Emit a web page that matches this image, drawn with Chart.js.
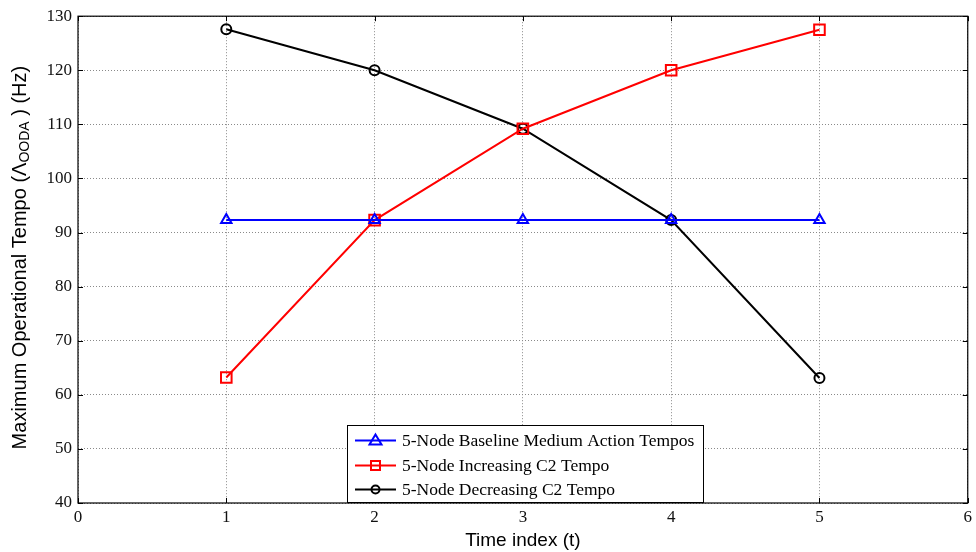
<!DOCTYPE html>
<html><head><meta charset="utf-8">
<script src="https://cdn.jsdelivr.net/npm/chart.js@4/dist/chart.umd.min.js"></script>
<style>html,body{margin:0;padding:0;background:#fff}#wrap{width:976px;height:552px}</style>
</head><body><div id="wrap"><canvas id="c" width="976" height="552"></canvas></div>
<script>
const timeIndex = [1, 2, 3, 4, 5];
const baselineTempo = [92.3, 92.3, 92.3, 92.3, 92.3];
const increasingTempo = [63.2, 92.3, 109.2, 120.0, 127.5];
const decreasingTempo = [127.6, 120.0, 109.2, 92.3, 63.1];
const seriesLabels = ['5-Node Baseline Medium Action Tempos', '5-Node Increasing C2 Tempo', '5-Node Decreasing C2 Tempo'];
const xTitle = 'Time index (t)';
const yTitleParts = ['Maximum Operational Tempo (\u039B', 'OODA', ' ) (Hz)'];

const toPts = arr => arr.map((v, i) => ({x: timeIndex[i], y: v}));
const colors = ['#0000ff', '#ff0000', '#000000'];
const styles = ['triangle', 'rect', 'circle'];
const radii = [6, 7.5, 5];

if (Chart.LineController && Chart.LineController.prototype.getMaxOverflow) {
  Chart.LineController.prototype.getMaxOverflow = function () { return 0; };
}

const boxPlugin = {
  id: 'matlabBox',
  afterDraw(chart) {
    const ctx = chart.ctx, a = chart.chartArea;
    const xs = chart.scales.x, ys = chart.scales.y;
    ctx.save();
    ctx.strokeStyle = '#000'; ctx.lineWidth = 1.2;
    ctx.strokeRect(a.left, a.top, a.right - a.left, a.bottom - a.top);
    ctx.lineWidth = 1;
    const tl = 5;
    ctx.beginPath();
    xs.ticks.forEach(t => {
      const px = Math.round(xs.getPixelForValue(t.value)) + 0.5;
      ctx.moveTo(px, a.bottom); ctx.lineTo(px, a.bottom - tl);
      ctx.moveTo(px, a.top); ctx.lineTo(px, a.top + tl);
    });
    ys.ticks.forEach(t => {
      const py = Math.round(ys.getPixelForValue(t.value)) + 0.5;
      ctx.moveTo(a.left, py); ctx.lineTo(a.left + tl, py);
      ctx.moveTo(a.right, py); ctx.lineTo(a.right - tl, py);
    });
    ctx.stroke();

    // legend
    const lx = 347, ly = 425, lw = 356, lh = 77;
    ctx.fillStyle = '#fff';
    ctx.fillRect(lx, ly, lw, lh);
    ctx.strokeStyle = '#000'; ctx.lineWidth = 1;
    ctx.strokeRect(lx + 0.5, ly + 0.5, lw, lh);
    const rows = [440, 465, 489];
    ctx.font = '17.5px "Liberation Serif", "Times New Roman", serif';
    ctx.textBaseline = 'middle'; ctx.textAlign = 'left';
    seriesLabels.forEach((lab, i) => {
      const y = rows[i] + 0.5;
      ctx.strokeStyle = colors[i]; ctx.lineWidth = 2;
      ctx.beginPath(); ctx.moveTo(355, y); ctx.lineTo(396, y); ctx.stroke();
      ctx.lineWidth = 2;
      ctx.beginPath();
      if (styles[i] === 'triangle') {
        ctx.moveTo(375.5, y - 6); ctx.lineTo(381.5, y + 4); ctx.lineTo(369.5, y + 4); ctx.closePath();
      } else if (styles[i] === 'rect') {
        ctx.rect(371, y - 4.5, 9, 9);
      } else {
        ctx.arc(375.5, y, 4, 0, Math.PI * 2);
      }
      ctx.stroke();
      ctx.fillStyle = '#000';
      ctx.fillText(lab, 402, y + 1);
    });

    // y title with subscript
    const f1 = '20px "Liberation Sans", Arial, sans-serif';
    const f2 = '14px "Liberation Sans", Arial, sans-serif';
    ctx.font = f1; const w1 = ctx.measureText(yTitleParts[0]).width;
    const w3 = ctx.measureText(yTitleParts[2]).width;
    ctx.font = f2; const w2 = ctx.measureText(yTitleParts[1]).width;
    const total = w1 + w2 + w3;
    ctx.translate(20, (a.top + a.bottom) / 2 - 2);
    ctx.rotate(-Math.PI / 2);
    ctx.fillStyle = '#000'; ctx.textBaseline = 'middle'; ctx.textAlign = 'left';
    let x0 = -total / 2;
    ctx.font = f1; ctx.fillText(yTitleParts[0], x0, 0);
    ctx.font = f2; ctx.fillText(yTitleParts[1], x0 + w1, 5);
    ctx.font = f1; ctx.fillText(yTitleParts[2], x0 + w1 + w2, 0);
    ctx.restore();
  }
};

const ds = [baselineTempo, increasingTempo, decreasingTempo].map((arr, i) => ({
  label: seriesLabels[i],
  data: toPts(arr),
  borderColor: colors[i],
  borderWidth: 2,
  pointStyle: styles[i],
  pointRadius: radii[i],
  pointBorderWidth: 2,
  pointBorderColor: colors[i],
  pointBackgroundColor: 'rgba(0,0,0,0)',
  tension: 0,
  fill: false,
  clip: 10
}));

new Chart(document.getElementById('c'), {
  type: 'line',
  data: { datasets: ds },
  options: {
    responsive: false,
    animation: false,
    devicePixelRatio: 1,
    layout: { padding: { left: 0, right: 2, top: 10, bottom: 0 } },
    plugins: { legend: { display: false }, tooltip: { enabled: false } },
    scales: {
      x: {
        type: 'linear', min: 0, max: 6,
        afterFit(s) { s.height = 49; },
        ticks: { stepSize: 1, padding: 4, color: '#111', font: { family: '"Liberation Serif", "Times New Roman", serif', size: 17 } },
        grid: { color: '#8a8a8a', lineWidth: 1, drawTicks: false },
        border: { display: false, dash: [1, 2] },
        title: { display: true, text: xTitle, color: '#000', padding: { top: 0, bottom: 0 }, font: { family: '"Liberation Sans", Arial, sans-serif', size: 19 } }
      },
      y: {
        type: 'linear', min: 40, max: 130,
        afterFit(s) { s.width = 78; },
        ticks: { stepSize: 10, padding: 6, color: '#111', font: { family: '"Liberation Serif", "Times New Roman", serif', size: 17 } },
        grid: { color: '#8a8a8a', lineWidth: 1, drawTicks: false },
        border: { display: false, dash: [1, 2] }
      }
    }
  },
  plugins: [boxPlugin]
});
</script>
</body></html>
